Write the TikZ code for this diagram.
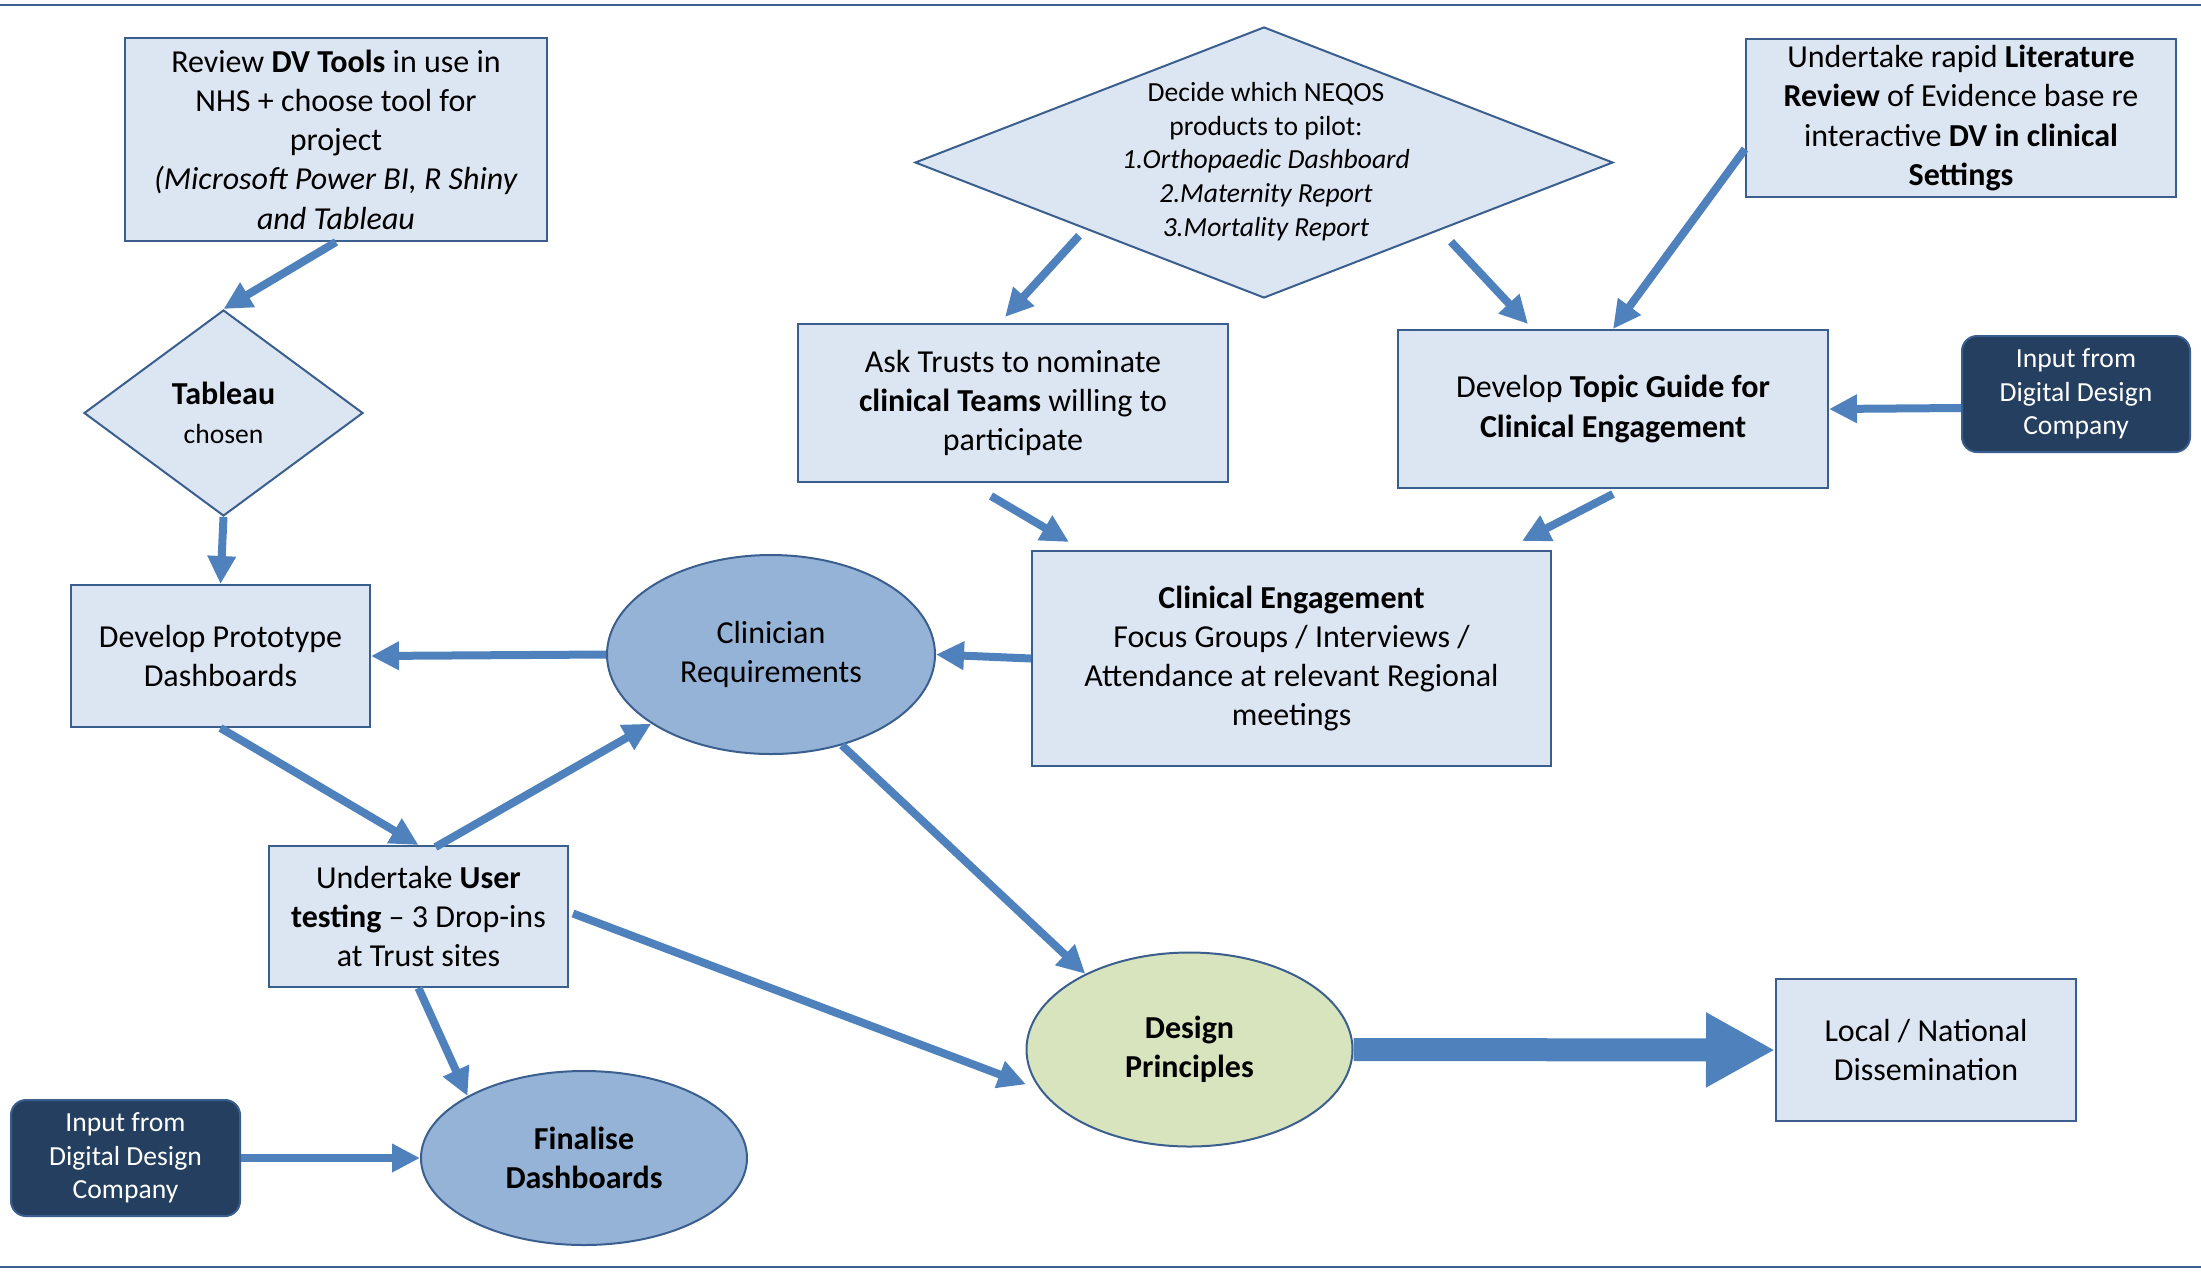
\documentclass[tikz,border=0pt]{standalone}
\usepackage{fontspec}
\setmainfont{Carlito}
\usetikzlibrary{arrows.meta,shapes.geometric,calc}
\definecolor{boxfill}{HTML}{DCE6F2}
\definecolor{boxline}{HTML}{3A5F8F}
\definecolor{arr}{HTML}{4F81BD}
\definecolor{ellfill}{HTML}{95B3D7}
\definecolor{greenfill}{HTML}{D7E4BD}
\definecolor{navy}{HTML}{243F60}
\begin{document}
\begin{tikzpicture}[x=0.5pt,y=-0.5pt,
  base/.style={draw=boxline,line width=1pt,inner sep=0pt,align=center,font=\fontsize{16}{19.65}\selectfont},
  box/.style={base,rectangle,fill=boxfill},
  dia/.style={base,diamond,fill=boxfill},
  ell/.style={base,ellipse,fill=ellfill},
  gell/.style={base,ellipse,fill=greenfill},
  inp/.style={base,rectangle,rounded corners=7.5pt,fill=navy,text=white,font=\fontsize{13.8}{16.85}\selectfont},
  arrow/.style={draw=arr,line width=4pt,-{Triangle[length=14pt,width=13.5pt]}},
  bigarrow/.style={draw=arr,line width=11.5pt,-{Triangle[length=34.5pt,width=35pt]}},
]
\useasboundingbox (0,0) rectangle (2201,1271);
\draw[boxline,line width=1pt] (0,5) -- (2201,5);
\draw[boxline,line width=1pt] (0,1266.5) -- (2201,1266.5);

\node[box,minimum width=211pt,minimum height=101.5pt] (review) at (336,139.5)
  {Review \textbf{DV Tools} in use in\\NHS + choose tool for\\project\\\textit{(Microsoft Power BI, R Shiny}\\\textit{and Tableau}};
\node[dia,minimum width=139.5pt,minimum height=103pt] (tab) at (223.5,413)
  {\textbf{Tableau}\\\fontsize{13.8}{18.25}\selectfont chosen};
\node[box,minimum width=149.5pt,minimum height=71pt] (proto) at (220.5,656)
  {Develop Prototype\\Dashboards};
\node[ell,minimum width=164pt,minimum height=99.5pt] (clin) at (771,654.5)
  {Clinician\\Requirements};
\node[box,minimum width=215pt,minimum height=79pt] (ask) at (1013,403)
  {Ask Trusts to nominate\\\textbf{clinical Teams} willing to\\participate};
\node[dia,minimum width=349pt,minimum height=135.5pt] (neqos) at (1264,162.5) {};
\node[align=center,inner sep=0pt,font=\fontsize{13.8}{16.85}\selectfont] (neqostext) at (1266,161.5)
  {Decide which NEQOS\\products to pilot:\\\textit{1.Orthopaedic Dashboard}\\\textit{2.Maternity Report}\\\textit{3.Mortality Report}};
\node[box,minimum width=215pt,minimum height=79pt] (lit) at (1961,118)
  {Undertake rapid \textbf{Literature}\\\textbf{Review} of Evidence base re\\interactive \textbf{DV in clinical}\\\textbf{Settings}};
\node[box,minimum width=215pt,minimum height=79pt] (topic) at (1613,409)
  {Develop \textbf{Topic Guide for}\\\textbf{Clinical Engagement}};
\node[inp,minimum width=114pt,minimum height=58pt] (inp1) at (2076,394)
  {Input from\\Digital Design\\Company};
\node[box,minimum width=259.5pt,minimum height=107.5pt] (ce) at (1291.5,658.5)
  {\textbf{Clinical Engagement}\\Focus Groups / Interviews /\\Attendance at relevant Regional\\meetings};
\node[box,minimum width=149.5pt,minimum height=70.5pt] (user) at (418.5,916.5)
  {Undertake \textbf{User}\\\textbf{testing} -- 3 Drop-ins\\at Trust sites};
\node[ell,minimum width=163pt,minimum height=87pt] (fin) at (584,1158)
  {\textbf{Finalise}\\\textbf{Dashboards}};
\node[inp,minimum width=114.5pt,minimum height=58pt] (inp2) at (125.5,1158)
  {Input from\\Digital Design\\Company};
\node[gell,minimum width=163pt,minimum height=97pt] (dp) at (1189.5,1049.5)
  {\textbf{Design}\\\textbf{Principles}};
\node[box,minimum width=150pt,minimum height=71pt] (local) at (1926,1050)
  {Local / National\\Dissemination};

\draw[arrow] (review.south) -- (tab.north);
\draw[arrow] (tab.south) -- (proto.north);
\draw[arrow] (clin.west) -- (proto.east);
\draw[arrow] (ce.west) -- (clin.east);
\draw[arrow] ($(neqos.south west)+(-10,5)$) -- ($(ask.north)+(-8,-6)$);
\draw[arrow] ($(neqos.south east)+(12,11)$) -- ($(topic.north)+(-85,-5)$);
\draw[arrow] ($(lit.west)+(0,31)$) -- (topic.north);
\draw[arrow] ($(inp1.west)+(0,14)$) -- (topic.east);
\draw[arrow] ($(ask.south)+(-22,13)$) -- ($(ce.north west)+(38,-8)$);
\draw[arrow] ($(topic.south)+(0,5)$) -- ($(ce.north east)+(-30,-9)$);
\draw[arrow] (proto.south) -- (user.north);
\draw[arrow] ($(user.north)+(17,2)$) -- (clin.210);
\draw[arrow] (clin.-52) -- (dp.144);
\draw[arrow] ($(user.east)+(4,-3)$) -- ($(dp.192)+(-9,2)$);
\draw[arrow] (user.south) -- (fin.152);
\draw[arrow] (inp2.east) -- (fin.west);
\draw[bigarrow] (dp.east) -- (local.west);
\end{tikzpicture}
\end{document}
